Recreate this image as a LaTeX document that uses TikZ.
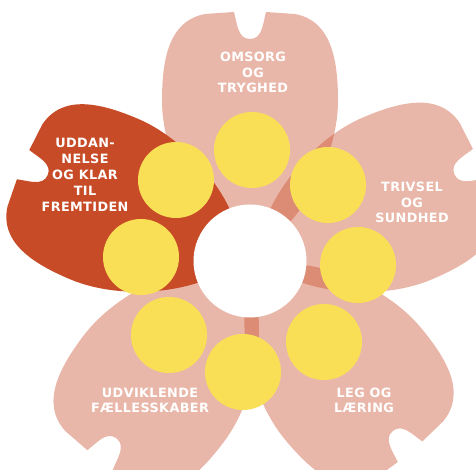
\documentclass[tikz,border=0pt]{standalone}
\usepackage{fontspec}
\setmainfont{DejaVu Sans}
\definecolor{petalc}{HTML}{C84B27}
\definecolor{yel}{HTML}{F9DF55}
\newcommand\flowerpetal[3]{%
  \begin{scope}[shift={(C)},rotate=#1-90,scale=#3]
    \fill[#2] (0,10) .. controls (-45,25) and (-88,100) .. (-88,160)
      .. controls (-88,200) and (-82,240) .. (-45,247) -- (-16,249)
      to[out=-75,in=180] (0,222) to[out=0,in=-105] (16,249) -- (45,247)
      .. controls (82,240) and (88,200) .. (88,160)
      .. controls (88,100) and (45,25) .. (0,10) -- cycle;
  \end{scope}}
\tikzset{
  palepetal/.style={fill=petalc, fill opacity=0.4},
  darkpetal/.style={fill=petalc},
  dot/.style={circle, fill=yel, minimum size=76pt, inner sep=0pt},
  hub/.style={circle, fill=white, minimum size=113pt, inner sep=0pt},
  lbl/.style={text=white, font=\bfseries\fontsize{12.8}{15.8}\selectfont\addfontfeatures{LetterSpace=3}, align=center, inner sep=0pt}
}
\begin{document}
\begin{tikzpicture}[x=1pt,y=1pt]
\useasboundingbox (0,0) rectangle (476,470);
\clip (0,0) rectangle (476,470);
\coordinate (C) at (250,209);
\flowerpetal{90}{palepetal}{1}
\flowerpetal{23}{palepetal}{1}
\flowerpetal{-50}{palepetal}{1}
\flowerpetal{-127}{palepetal}{1}
\flowerpetal{157}{darkpetal}{0.99}
\node[hub] (center) at (C) {};
\node[dot] (d1) at (252,320) {};
\node[dot] (d2) at (176,290) {};
\node[dot] (d3) at (328,285) {};
\node[dot] (d4) at (141,213) {};
\node[dot] (d5) at (358,205) {};
\node[dot] (d6) at (169,135) {};
\node[dot] (d7) at (324,128) {};
\node[dot] (d8) at (243,98) {};
\node[lbl] (omsorg) at (253,397.6) {OMSORG\\OG\\TRYGHED};
\node[lbl] (uddan) at (85,295.1) {UDDAN-\\NELSE\\OG KLAR\\TIL\\FREMTIDEN};
\node[lbl] (trivsel) at (412,267.6) {TRIVSEL\\OG\\SUNDHED};
\node[lbl] (udvik) at (150,69.6) {UDVIKLENDE\\FÆLLESSKABER};
\node[lbl] (leg) at (364,69.6) {LEG OG\\LÆRING};
\end{tikzpicture}
\end{document}
